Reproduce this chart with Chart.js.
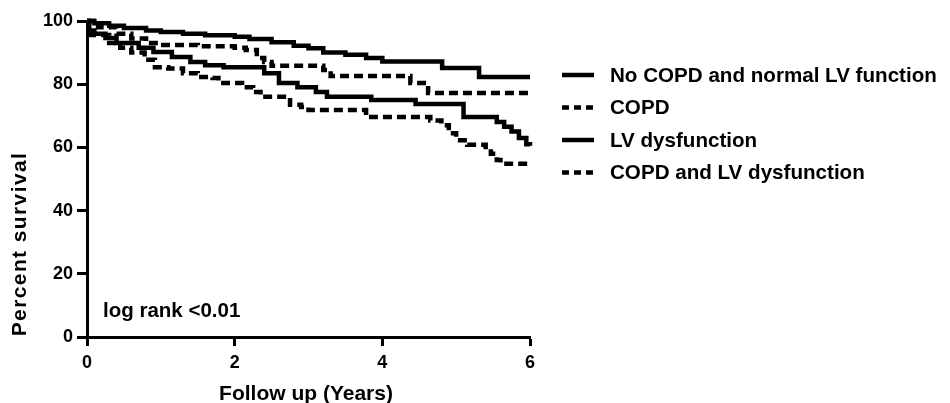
<!DOCTYPE html>
<html>
<head>
<meta charset="utf-8">
<script src="https://cdn.jsdelivr.net/npm/chart.js@4.4.1/dist/chart.umd.min.js"></script>
<style>
  html, body { margin: 0; padding: 0; background: #fff; }
  #wrap { width: 950px; height: 403px; }
</style>
</head>
<body>
<div id="wrap"><canvas id="km"></canvas></div>
<script>
// Kaplan-Meier survival, step points as [years, percent surviving]
const seriesLabels = [
  "No COPD and normal LV function",
  "COPD",
  "LV dysfunction",
  "COPD and LV dysfunction"
];

const noCopdNormalLv = [
  [0, 100], [0.1, 99.3], [0.3, 98.5], [0.5, 97.8], [0.8, 97], [1.0, 96.5],
  [1.3, 96], [1.6, 95.5], [2.0, 95], [2.2, 94.3], [2.5, 93.3], [2.8, 92.2],
  [3.0, 91.4], [3.2, 90], [3.5, 89.3], [3.78, 88.3], [4.0, 87.2],
  [4.81, 85.1], [5.31, 82.3], [6.0, 82.3]
];

const copd = [
  [0, 100], [0.15, 98], [0.4, 96], [0.6, 94.5], [0.8, 93], [1.0, 92.4],
  [1.5, 92], [2.0, 91.5], [2.15, 90.8], [2.3, 88.3], [2.4, 87], [2.5, 85.8],
  [3.1, 85.8], [3.2, 84.5], [3.3, 82.6], [4.38, 80.4], [4.62, 77.2], [6.0, 77.2]
];

const lvDysfunction = [
  [0, 100], [0.03, 97], [0.1, 96], [0.25, 94.6], [0.4, 93], [0.7, 91.5],
  [0.9, 90.2], [1.15, 88.6], [1.4, 87], [1.6, 86], [1.85, 85.4], [2.4, 83.5],
  [2.6, 80.4], [2.85, 79], [3.1, 77.5], [3.25, 76], [3.85, 75], [4.45, 73.7],
  [5.1, 69.6], [5.55, 68], [5.65, 66.5], [5.75, 65], [5.85, 63], [5.95, 61],
  [6.0, 60.5]
];

const copdAndLv = [
  [0, 100], [0.02, 97], [0.05, 95.6], [0.3, 93], [0.45, 91.5], [0.6, 90],
  [0.78, 87.7], [0.92, 85.4], [1.1, 85], [1.3, 83.5], [1.5, 82.3], [1.7, 82],
  [1.78, 80.4], [2.1, 79], [2.25, 77.5], [2.35, 76], [2.75, 73.5], [2.9, 72.8],
  [3.0, 71.8], [3.78, 69.6], [4.65, 68.5], [4.8, 67], [4.9, 64.5], [5.0, 62.3],
  [5.15, 60.8], [5.4, 60.1], [5.47, 58], [5.55, 56], [5.6, 54.8], [6.0, 54.8]
];

const xTicks = [0, 2, 4, 6];
const yTicks = [0, 20, 40, 60, 80, 100];
const noteText = "log rank <0.01";

const curves = [noCopdNormalLv, copd, lvDysfunction, copdAndLv];
const dashes = [[], [9, 5], [], [9, 5]];

const FONT = "'Liberation Sans', Arial, sans-serif";

// axis titles, the log rank note and the legend on the right
const decorations = {
  id: "decorations",
  afterDraw(chart) {
    const { ctx } = chart;
    ctx.save();
    ctx.fillStyle = "#000";
    ctx.font = "bold 21px " + FONT;
    ctx.textAlign = "center";
    ctx.textBaseline = "alphabetic";
    ctx.fillText("Follow up (Years)", 306, 400);

    ctx.save();
    ctx.translate(26, 244);
    ctx.rotate(-Math.PI / 2);
    ctx.letterSpacing = "1.4px";
    ctx.fillText("Percent survival", 0, 0);
    ctx.restore();

    ctx.font = "bold 20.5px " + FONT;
    ctx.textAlign = "left";
    ctx.fillText(noteText, 103, 317);

    ctx.font = "bold 20.6px " + FONT;
    ctx.textBaseline = "middle";
    chart.data.datasets.forEach((ds, i) => {
      const y = 75 + i * 32.5;
      ctx.strokeStyle = "#000";
      ctx.lineWidth = 4.5;
      ctx.setLineDash(ds.borderDash.length ? [7, 5] : []);
      ctx.beginPath();
      ctx.moveTo(562, y);
      ctx.lineTo(594, y);
      ctx.stroke();
      ctx.setLineDash([]);
      ctx.fillText(ds.label, 610, y + 1);
    });
    ctx.restore();
  }
};

new Chart(document.getElementById("km"), {
  type: "line",
  data: {
    datasets: curves.map((pts, i) => ({
      label: seriesLabels[i],
      data: pts.map(p => ({ x: p[0], y: p[1] })),
      stepped: "before",
      borderColor: "#000",
      borderWidth: 4.5,
      borderDash: dashes[i],
      borderCapStyle: "butt",
      borderJoinStyle: "miter",
      pointRadius: 0,
      fill: false,
      clip: 4
    }))
  },
  options: {
    responsive: true,
    maintainAspectRatio: false,
    animation: false,
    layout: { padding: { top: 21, right: 420, bottom: 0, left: 0 } },
    plugins: { legend: { display: false }, tooltip: { enabled: false } },
    scales: {
      x: {
        type: "linear",
        min: 0,
        max: 6,
        afterBuildTicks: s => { s.ticks = xTicks.map(v => ({ value: v })); },
        afterFit: s => { s.height = 66; },
        ticks: { color: "#000", font: { family: FONT, size: 18, weight: "bold" }, padding: 6, maxRotation: 0 },
        grid: { drawOnChartArea: false, drawTicks: true, tickLength: 9, tickWidth: 3, tickColor: "#000" },
        border: { display: true, color: "#000", width: 3 }
      },
      y: {
        type: "linear",
        min: 0,
        max: 100,
        afterBuildTicks: s => { s.ticks = yTicks.map(v => ({ value: v })); },
        afterFit: s => { s.width = 87; },
        ticks: { color: "#000", font: { family: FONT, size: 18, weight: "bold" }, padding: 4 },
        grid: { drawOnChartArea: false, drawTicks: true, tickLength: 10, tickWidth: 3, tickColor: "#000" },
        border: { display: true, color: "#000", width: 3 }
      }
    }
  },
  plugins: [decorations]
});
</script>
</body>
</html>
